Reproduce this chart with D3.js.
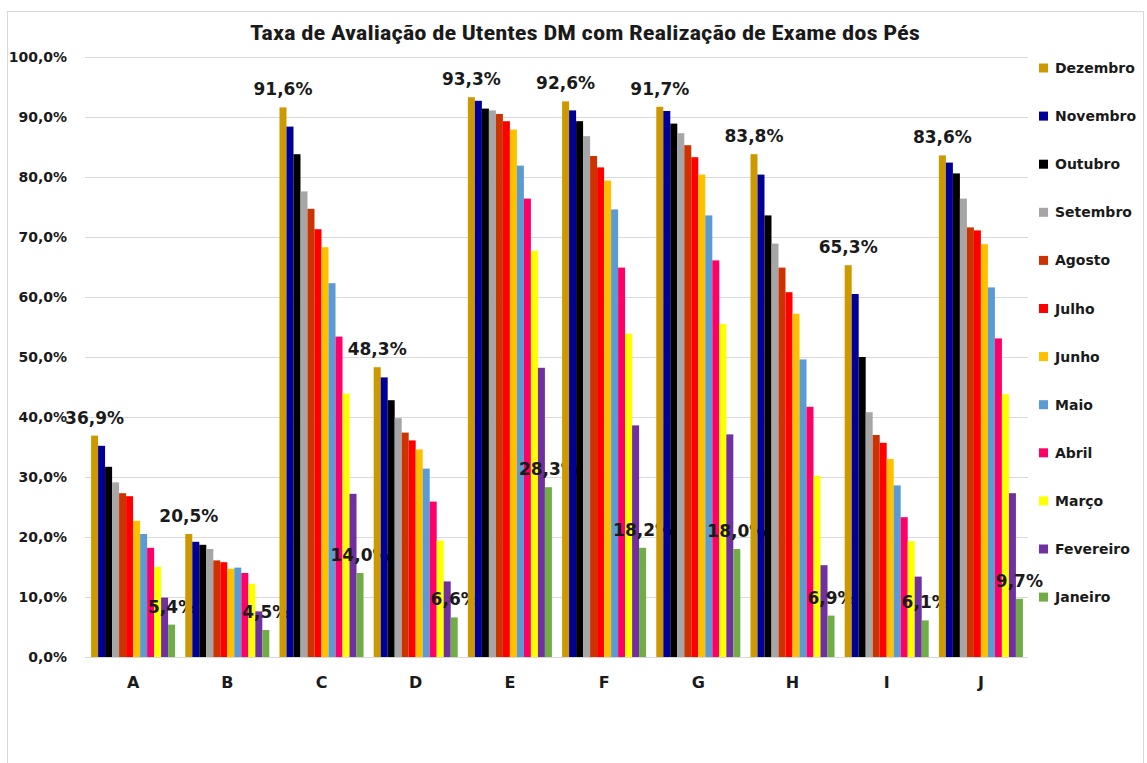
<!DOCTYPE html>
<html>
<head>
<meta charset="utf-8">
<script src="https://cdn.jsdelivr.net/npm/d3@7"></script>
<style>
  html, body { margin: 0; padding: 0; background: #fff; }
  svg { display: block; }
</style>
</head>
<body>
<svg id="chart" width="1147" height="763"></svg>
<script>
// Categories (units) and monthly series, values in percent
const categories = ["A", "B", "C", "D", "E", "F", "G", "H", "I", "J"];
const months = ["Dezembro", "Novembro", "Outubro", "Setembro", "Agosto", "Julho",
                "Junho", "Maio", "Abril", "Março", "Fevereiro", "Janeiro"];
const dezembro  = [36.9, 20.5, 91.6, 48.3, 93.3, 92.6, 91.7, 83.8, 65.3, 83.6];
const novembro  = [35.2, 19.2, 88.4, 46.6, 92.7, 91.1, 91.0, 80.4, 60.5, 82.4];
const outubro   = [31.7, 18.7, 83.8, 42.8, 91.4, 89.3, 88.9, 73.6, 50.0, 80.6];
const setembro  = [29.1, 18.0, 77.6, 39.8, 91.1, 86.8, 87.3, 68.9, 40.8, 76.4];
const agosto    = [27.3, 16.1, 74.7, 37.4, 90.5, 83.5, 85.3, 64.9, 37.0, 71.6];
const julho     = [26.8, 15.8, 71.3, 36.1, 89.3, 81.6, 83.3, 60.8, 35.7, 71.1];
const junho     = [22.7, 14.7, 68.3, 34.6, 87.9, 79.4, 80.4, 57.2, 33.0, 68.8];
const maio      = [20.5, 14.9, 62.3, 31.4, 81.9, 74.6, 73.6, 49.6, 28.6, 61.6];
const abril     = [18.2, 14.0, 53.4, 25.9, 76.4, 64.9, 66.1, 41.7, 23.3, 53.1];
const marco     = [15.0, 12.2, 43.9, 19.4, 67.7, 53.9, 55.5, 30.2, 19.3, 43.8];
const fevereiro = [ 9.9,  7.6, 27.2, 12.6, 48.2, 38.6, 37.1, 15.3, 13.4, 27.3];
const janeiro   = [ 5.4,  4.5, 14.0,  6.6, 28.3, 18.2, 18.0,  6.9,  6.1,  9.7];
const seriesValues = [dezembro, novembro, outubro, setembro, agosto, julho,
                      junho, maio, abril, marco, fevereiro, janeiro];
const colors = ["#CC9900", "#000099", "#000000", "#A6A6A6", "#CC3300", "#FF0000",
                "#FFC000", "#5B9BD5", "#FF0066", "#FFFF00", "#7030A0", "#70AD47"];
const labelledSeries = ["Dezembro", "Janeiro"];
const yTicks = [0, 10, 20, 30, 40, 50, 60, 70, 80, 90, 100];
const title = "Taxa de Avaliação de Utentes DM com Realização de Exame dos Pés";

const svg = d3.select("#chart");
const boldFont = "'DejaVu Sans', Verdana, sans-serif";

// Outer chart frame
svg.append("rect")
  .attr("x", 7.5).attr("y", 11.5)
  .attr("width", 1136).attr("height", 770)
  .attr("fill", "#fff").attr("stroke", "#d9d9d9").attr("stroke-width", 1);

const plot = { left: 86, right: 1028, top: 57, bottom: 657 };

const x0 = d3.scaleBand()
  .domain(categories)
  .range([plot.left, plot.right])
  .paddingInner(0.108)
  .paddingOuter(0.054);

const x1 = d3.scaleBand()
  .domain(months)
  .range([0, x0.bandwidth()]);

const y = d3.scaleLinear().domain([0, 100]).range([plot.bottom, plot.top]);
const color = d3.scaleOrdinal().domain(months).range(colors);
const fmt = v => d3.format(".1f")(v).replace(".", ",") + "%";

// Horizontal gridlines and baseline
svg.append("g")
  .selectAll("line")
  .data(yTicks)
  .join("line")
  .attr("x1", plot.left - 1).attr("x2", plot.right)
  .attr("y1", d => Math.round(y(d)) + 0.5).attr("y2", d => Math.round(y(d)) + 0.5)
  .attr("stroke", "#d9d9d9").attr("stroke-width", 1);

// Y axis labels
const yAxis = d3.axisLeft(y).tickValues(yTicks).tickFormat(fmt).tickSize(0).tickPadding(0);
const yG = svg.append("g").attr("transform", "translate(67,0)").call(yAxis);
yG.select(".domain").remove();
yG.selectAll("text")
  .attr("font-family", boldFont).attr("font-weight", "bold")
  .attr("font-size", "14px").attr("fill", "#1a1a1a");

// X axis category labels
const xAxis = d3.axisBottom(x0).tickSize(0).tickPadding(0);
const xG = svg.append("g").attr("transform", `translate(0,${plot.bottom + 20})`).call(xAxis);
xG.select(".domain").remove();
xG.selectAll("text")
  .attr("font-family", boldFont).attr("font-weight", "bold")
  .attr("font-size", "16px").attr("fill", "#1a1a1a");

// Bars
const rows = categories.map((c, i) => ({
  cat: c,
  vals: months.map((m, k) => ({ month: m, value: seriesValues[k][i] }))
}));

const groups = svg.append("g")
  .selectAll("g")
  .data(rows)
  .join("g")
  .attr("transform", d => `translate(${x0(d.cat)},0)`);

groups.selectAll("rect")
  .data(d => d.vals)
  .join("rect")
  .attr("x", d => x1(d.month))
  .attr("width", x1.bandwidth())
  .attr("y", d => y(d.value))
  .attr("height", d => y(0) - y(d.value))
  .attr("fill", d => color(d.month));

// Value labels for first and last months
groups.selectAll("text.val")
  .data(d => d.vals.filter(v => labelledSeries.includes(v.month)))
  .join("text")
  .attr("class", "val")
  .attr("x", d => x1(d.month) + x1.bandwidth() / 2)
  .attr("y", d => y(d.value) - 12)
  .attr("text-anchor", "middle")
  .attr("font-family", boldFont).attr("font-weight", "bold")
  .attr("font-size", "17px").attr("fill", "#1a1a1a")
  .text(d => fmt(d.value));

// Title
svg.append("text")
  .attr("x", 585).attr("y", 40)
  .attr("text-anchor", "middle")
  .attr("font-family", "'Liberation Sans Narrow', 'Roboto Condensed', 'Open Sans', sans-serif")
  .attr("font-weight", "bold")
  .attr("font-size", "20px").attr("fill", "#1a1a1a")
  .attr("textLength", 670).attr("lengthAdjust", "spacingAndGlyphs")
  .text(title);

// Legend
const legend = svg.append("g")
  .selectAll("g")
  .data(months)
  .join("g")
  .attr("transform", (d, i) => `translate(1039,${68 + i * 48.1})`);

legend.append("rect")
  .attr("x", 0).attr("y", -4.5)
  .attr("width", 9).attr("height", 9)
  .attr("fill", d => color(d));

legend.append("text")
  .attr("x", 16).attr("y", 0)
  .attr("dy", "0.36em")
  .attr("font-family", boldFont).attr("font-weight", "bold")
  .attr("font-size", "14px").attr("fill", "#1a1a1a")
  .text(d => d);
</script>
</body>
</html>
